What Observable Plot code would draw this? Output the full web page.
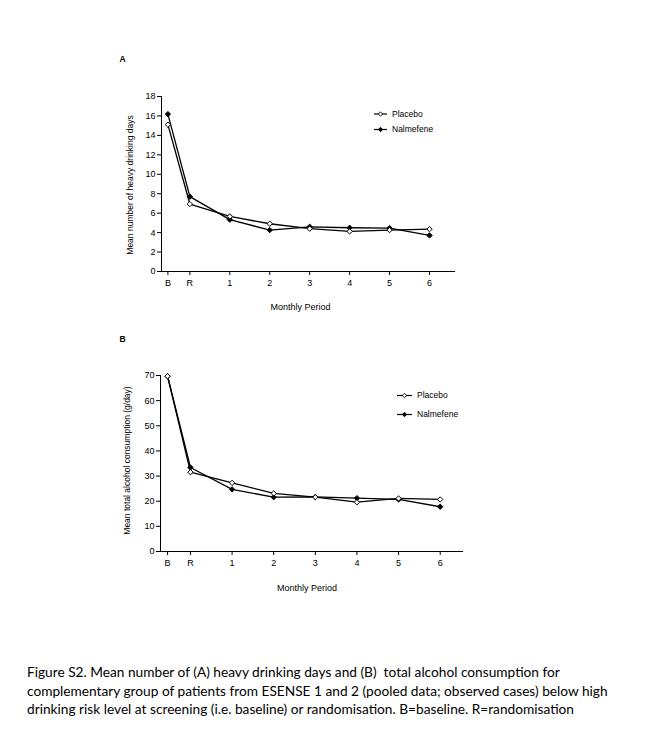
<!DOCTYPE html>
<html><head><meta charset="utf-8">
<script src="https://cdn.jsdelivr.net/npm/d3@7"></script>
<script src="https://cdn.jsdelivr.net/npm/@observablehq/plot@0.6"></script>
<style>
body{margin:0;background:#fff;}
#wrap{position:relative;width:659px;height:744px;overflow:hidden;}
#a{position:absolute;left:0;top:0;}
#b{position:absolute;left:0;top:320px;}
#cap{position:absolute;left:27px;top:663px;font-family:Lato,"Open Sans",sans-serif;font-size:13.7px;line-height:18.5px;color:#000;width:630px;}
</style></head><body>
<div id="wrap"><div id="a"></div><div id="b"></div>
<div id="cap">Figure S2. Mean number of (A) heavy drinking days and (B)&nbsp; total alcohol consumption for<br>complementary group of patients from ESENSE 1 and 2 (pooled data; observed cases) below high<br>drinking risk level at screening (i.e. baseline) or randomisation. B=baseline. R=randomisation</div>
</div>
<script>
const periods = ["B","R","1","2","3","4","5","6"];
const periodX = [-0.55,0,1,2,3,4,5,6];
const series = ["Placebo","Nalmefene"];
const placeboHDD = [15.1,6.94,5.67,4.91,4.40,4.12,4.26,4.36];
const nalmefeneHDD = [16.19,7.7,5.33,4.26,4.6,4.5,4.47,3.71];
const placeboTAC = [69.7,31.55,27.3,23.1,21.6,19.6,21.1,20.7];
const nalmefeneTAC = [69.7,33.4,24.7,21.6,21.7,21.2,20.7,17.8];
const hddTicks = [0,2,4,6,8,10,12,14,16,18];
const tacTicks = [0,10,20,30,40,50,60,70];

const FONT = "'Liberation Sans', Arial, sans-serif";

function rows(vals, s){ return vals.map((v,i)=>({period:periods[i], x:periodX[i], value:v, series:s})); }

function diamond(cx, cy, r){ return `M${cx},${cy-r}L${cx+r},${cy}L${cx},${cy+r}L${cx-r},${cy}Z`; }

function legendMark(lx, ly, gap, len){
  return () => {
    const g = d3.create("svg:g").attr("font-family", FONT).attr("font-size", 8.5).attr("text-anchor","start");
    series.forEach((s,i)=>{
      const y = ly + i*gap;
      g.append("line").attr("x1",lx).attr("x2",lx+len).attr("y1",y).attr("y2",y)
        .attr("stroke","black").attr("stroke-width",1.2);
      g.append("path").attr("d", diamond(lx+len/2, y, 2.2))
        .attr("fill", i===0 ? "white" : "black").attr("stroke","black").attr("stroke-width",0.9);
      g.append("text").attr("x", lx+len+5).attr("y", y).attr("dy","0.35em").attr("fill","black").text(s);
    });
    return g.node();
  };
}

function panel(o){
  const p = rows(o.placebo, "Placebo"), n = rows(o.nalmefene, "Nalmefene");
  return Plot.plot({
    width: 659, height: o.height,
    marginTop: o.mt, marginBottom: o.mb, marginLeft: o.ml, marginRight: o.mr,
    style: {fontFamily: FONT, fontSize: "9px", color: "black", background: "white", overflow: "visible"},
    x: {domain: o.xDomain},
    y: {domain: [0, o.yTicks[o.yTicks.length-1]]},
    marks: [
      Plot.ruleX([o.xDomain[0]], {stroke: "black", strokeWidth: 1}),
      Plot.ruleY([0], {stroke: "black", strokeWidth: 1}),
      Plot.axisY({ticks: o.yTicks, tickSize: 4, tickPadding: 2, label: null, fontSize: 9}),
      Plot.axisX({ticks: periodX, tickFormat: d => periods[periodX.indexOf(d)], tickSize: 4, tickPadding: 4, label: null, fontSize: 9}),
      Plot.line(n, {x: "x", y: "value", stroke: "black", strokeWidth: 1.3}),
      Plot.line(p, {x: "x", y: "value", stroke: "black", strokeWidth: 1.3}),
      Plot.dot(n, {x: "x", y: "value", symbol: "diamond2", r: 2.4, fill: "black", stroke: "black", strokeWidth: 1}),
      Plot.dot(p, {x: "x", y: "value", symbol: "diamond2", r: 2.4, fill: "white", stroke: "black", strokeWidth: 1}),
      Plot.text([o.letter], {text: d => d, frameAnchor: "top-left", textAnchor: "middle", lineAnchor: "middle", dx: o.letterDx, dy: o.letterDy, fontWeight: "bold", fontSize: 8.5, fill: "black"}),
      Plot.text([o.yTitle], {text: d => d, frameAnchor: "left", textAnchor: "middle", lineAnchor: "middle", rotate: -90, dx: o.yTitleDx, dy: o.yTitleDy, fontSize: 8.5, fill: "black"}),
      Plot.text(["Monthly Period"], {text: d => d, frameAnchor: "bottom", textAnchor: "middle", lineAnchor: "middle", dx: o.xTitleDx, dy: o.xTitleDy, fontSize: 9, fill: "black"}),
      legendMark(o.legend[0], o.legend[1], o.legend[2], o.legend[3])
    ]
  });
}

document.getElementById("a").append(panel({
  letter: "A", placebo: placeboHDD, nalmefene: nalmefeneHDD, yTicks: hddTicks,
  yTitle: "Mean number of heavy drinking days",
  height: 320, mt: 96, mb: 49, ml: 161, mr: 204, xDomain: [-0.71, 6.65],
  letterDx: -39, letterDy: -37, yTitleDx: -31, yTitleDy: 1, xTitleDx: -8, xTitleDy: 36,
  legend: [374, 114, 15.5, 13]
}));
document.getElementById("b").append(panel({
  letter: "B", placebo: placeboTAC, nalmefene: nalmefeneTAC, yTicks: tacTicks,
  yTitle: "Mean total alcohol consumption (g/day)",
  height: 280, mt: 55, mb: 49, ml: 160, mr: 196, xDomain: [-0.72, 6.56],
  letterDx: -38, letterDy: -36.7, yTitleDx: -33, yTitleDy: -3, xTitleDx: -5, xTitleDy: 37,
  legend: [397, 75.5, 19, 15]
}));
</script>
</body></html>
